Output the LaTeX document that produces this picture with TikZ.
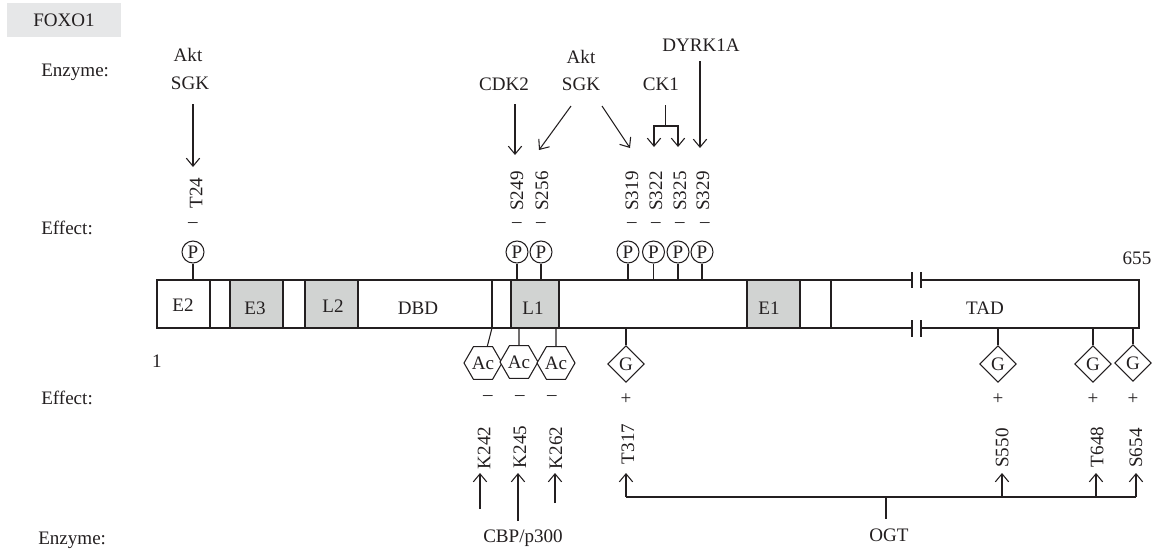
\documentclass[tikz,border=0pt]{standalone}
\usepackage{fontspec}
\setmainfont{Liberation Serif}
\usetikzlibrary{arrows.meta,shapes.geometric}
\definecolor{ink}{HTML}{231F20}
\definecolor{domgray}{HTML}{D1D3D2}
\definecolor{labgray}{HTML}{E6E7E8}
\tikzset{
  lbl/.style={inner sep=0pt,text=ink,font=\fontsize{14.3}{16}\selectfont},
  left lbl/.style={lbl,anchor=west},
  site/.style={lbl,rotate=90},
  pcircle/.style={lbl,circle,draw=ink,fill=white,line width=.8pt,minimum size=16.5pt},
  hexa/.style={lbl,regular polygon,regular polygon sides=6,draw=ink,fill=white,line width=.8pt,minimum size=28.5pt},
  diam/.style={lbl,diamond,aspect=1,draw=ink,fill=white,line width=.8pt,minimum width=27.5pt,minimum height=27.5pt},
  dombox/.style={lbl,draw=ink,line width=.8pt,minimum height=36pt},
  conn/.style={draw=ink,line width=.8pt},
  arr/.style={conn,-{Straight Barb[length=6pt,width=10pt]}}
}
\begin{document}
\begin{tikzpicture}[x=.75pt,y=-.75pt]
\useasboundingbox (0,0) rectangle (1165,554);
\node[fill=labgray,minimum width=85.5pt,minimum height=25.5pt,inner sep=0pt] (titlebox) at (64,20) {};
\node[lbl] (title) at (64,20) {FOXO1};
\node[left lbl] (enz1) at (41,72) {Enzyme:};
\node[left lbl] (eff1) at (41,228) {Effect:};
\node[left lbl] (eff2) at (41,398) {Effect:};
\node[left lbl] (enz2) at (38,540) {Enzyme:};
% bar
\coordinate (bartl) at (157,280);
\coordinate (barbl) at (157,328);
\coordinate (bartr) at (1139,280);
\coordinate (barbr) at (1139,328);
\coordinate (bt1) at (912,280);
\coordinate (bt2) at (921,280);
\coordinate (bb1) at (912,328);
\coordinate (bb2) at (921,328);
\draw[conn] (bt1) -- (bartl) -- (barbl) -- (bb1);
\draw[conn] (bt2) -- (bartr) -- (barbr) -- (bb2);
\coordinate (t1a) at (912,272); \coordinate (t1b) at (912,288);
\coordinate (t2a) at (921,272); \coordinate (t2b) at (921,288);
\coordinate (t3a) at (912,320); \coordinate (t3b) at (912,337);
\coordinate (t4a) at (921,320); \coordinate (t4b) at (921,337);
\draw[conn] (t1a) -- (t1b); \draw[conn] (t2a) -- (t2b);
\draw[conn] (t3a) -- (t3b); \draw[conn] (t4a) -- (t4b);
\node[dombox,minimum width=39.75pt] (E2) at (183.5,304) {};
\node[lbl] (E2t) at (183,305) {E2};
\node[dombox,fill=domgray,minimum width=39.75pt] (E3) at (256.5,304) {};
\node[lbl] (E3t) at (255,308) {E3};
\node[dombox,fill=domgray,minimum width=39.75pt] (L2) at (331.5,304) {};
\node[lbl] (L2t) at (333,306) {L2};
\node[lbl] (DBD) at (418,308) {DBD};
\node[dombox,fill=domgray,minimum width=36pt] (L1) at (535,304) {};
\node[lbl] (L1t) at (533,308) {L1};
\node[dombox,fill=domgray,minimum width=39.75pt] (E1) at (773.5,304) {};
\node[lbl] (E1t) at (769,308) {E1};
\node[lbl] (TAD) at (985,308) {TAD};
\draw[conn] (492,280) coordinate (d1a) -- (492,328) coordinate (d1b);
\draw[conn] (831,280) coordinate (d2a) -- (831,328) coordinate (d2b);
\node[lbl] (one) at (157,361) {1};
\node[lbl] (end) at (1137,258) {655};
% P sites
\foreach \x/\n in {193/a,517/b,541/c,628/d,653.5/e,678/f,702/g}{
  \node[pcircle] (p\n) at (\x,252) {P};
  \draw[conn] (p\n) -- (p\n |- bartl);
}
% minus top
\foreach \x/\n in {193/a,517/b,541/c,632/d,656/e,680/f,705/g}{
  \node[lbl] (mt\n) at (\x,225) {–};
}
% phospho labels
\node[site] (T24) at (196,193) {T24};
\node[site] (S249) at (517,191) {S249};
\node[site] (S256) at (542,191) {S256};
\node[site] (S319) at (632,191) {S319};
\node[site] (S322) at (656,191) {S322};
\node[site] (S325) at (680,191) {S325};
\node[site] (S329) at (703,191) {S329};
% top enzymes
\node[lbl] (akt1) at (188,55) {Akt};
\node[lbl] (sgk1) at (190,83) {SGK};
\node[lbl] (cdk2) at (504,84) {CDK2};
\node[lbl] (akt2) at (581,57) {Akt};
\node[lbl] (sgk2) at (581,84) {SGK};
\node[lbl] (ck1) at (661,84) {CK1};
\node[lbl] (dyrk) at (701,45) {DYRK1A};
\coordinate (a1s) at (193,104); \coordinate (a1e) at (193,167);
\draw[arr] (a1s) -- (a1e);
\coordinate (a2s) at (515,104); \coordinate (a2e) at (515,155);
\draw[arr] (a2s) -- (a2e);
\coordinate (a3s) at (571,106); \coordinate (a3e) at (539,150);
\draw[arr] (a3s) -- (a3e);
\coordinate (a4s) at (602,106); \coordinate (a4e) at (630,148);
\draw[arr] (a4s) -- (a4e);
\coordinate (ckt) at (665.5,105); \coordinate (ckm) at (665.5,126);
\coordinate (ckl) at (654,126); \coordinate (ckr) at (678,126);
\coordinate (ckle) at (654,147); \coordinate (ckre) at (678,147);
\draw[conn] (ckt) -- (ckm);
\draw[arr] (ckm) -- (ckl) -- (ckle);
\draw[arr] (ckm) -- (ckr) -- (ckre);
\coordinate (a5s) at (700,61); \coordinate (a5e) at (700,148);
\draw[arr] (a5s) -- (a5e);
% Ac
\node[hexa] (ac1) at (483,363) {Ac};
\node[hexa] (ac2) at (519,362) {Ac};
\node[hexa] (ac3) at (556,363) {Ac};
\coordinate (acs) at (492,328);
\draw[conn] (acs) -- (ac1);
\draw[conn] (ac2) -- (ac2 |- barbl);
\draw[conn] (ac3) -- (ac3 |- barbl);
% G
\foreach \x/\y/\n in {626/364/a,998/364/b,1093/364/c,1133/363/d}{
  \node[diam] (g\n) at (\x,\y) {G};
  \draw[conn] (g\n) -- (g\n |- barbl);
  \node[lbl] (plus\n) at (\x,399) {+};
}
\foreach \x/\n in {488/a,520/b,552/c}{
  \node[lbl] (mb\n) at (\x,398) {–};
}
\node[site] (K242) at (484,448) {K242};
\node[site] (K245) at (520,447) {K245};
\node[site] (K262) at (556,448) {K262};
\node[site] (T317) at (628,444) {T317};
\node[site] (S550) at (1002,448) {S550};
\node[site] (T648) at (1097,447) {T648};
\node[site] (S654) at (1136,448) {S654};
% bottom arrows
\coordinate (k1s) at (480,509); \coordinate (k1e) at (480,473);
\coordinate (k2s) at (518,521); \coordinate (k2e) at (518,473);
\coordinate (k3s) at (555,503); \coordinate (k3e) at (555,473);
\draw[arr] (k1s) -- (k1e);
\draw[arr] (k2s) -- (k2e);
\draw[arr] (k3s) -- (k3e);
\coordinate (o1) at (626,497); \coordinate (o1e) at (626,473);
\coordinate (o2) at (1002,497); \coordinate (o2e) at (1002,473);
\coordinate (o3) at (1096,497); \coordinate (o3e) at (1096,473);
\coordinate (o4) at (1136,497); \coordinate (o4e) at (1136,473);
\coordinate (om) at (886,497); \coordinate (ob) at (886,519);
\draw[conn] (o1) -- (o4);
\draw[arr] (o1) -- (o1e);
\draw[arr] (o2) -- (o2e);
\draw[arr] (o3) -- (o3e);
\draw[arr] (o4) -- (o4e);
\draw[conn] (om) -- (ob);
\node[lbl] (OGT) at (889,535) {OGT};
\node[lbl] (CBP) at (523,538) {CBP/p300};
\end{tikzpicture}
\end{document}
